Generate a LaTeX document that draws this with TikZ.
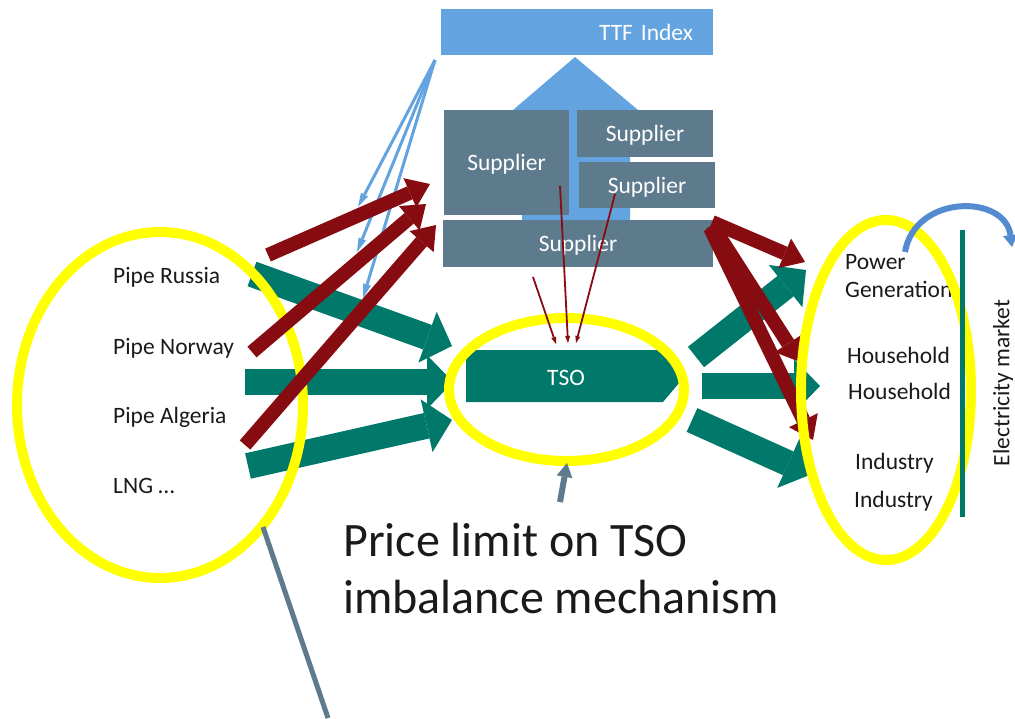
\documentclass[tikz,border=0pt]{standalone}
\usepackage{fontspec}
\setmainfont{Carlito}
\usetikzlibrary{arrows.meta, shapes.geometric, positioning}

\definecolor{ttfblue}{RGB}{98,163,224}
\definecolor{supgrey}{RGB}{94,123,142}
\definecolor{gasgreen}{RGB}{0,120,106}
\definecolor{bidred}{RGB}{135,12,18}
\definecolor{ringyellow}{RGB}{255,255,0}
\definecolor{slate}{RGB}{94,122,140}
\definecolor{arcblue}{RGB}{84,139,208}
\definecolor{txtdark}{RGB}{26,26,26}

\begin{document}
\begin{tikzpicture}[
        x=1pt, y=-1pt,
        font=\fontsize{23.5}{28}\selectfont,
        box/.style={rectangle, fill=supgrey, text=white, inner sep=0pt, text depth=0pt},
        lbl/.style={anchor=base west, inner sep=0pt, text=txtdark},
        ring/.style={ellipse, draw=ringyellow, line width=10pt, inner sep=0pt},
        flow/.style={draw=gasgreen, line width=26pt, -{Triangle[length=26pt,width=54pt,line width=0pt]}},
        bid/.style={draw=bidred, line width=14pt, -{Triangle[length=22pt,width=32pt,line width=0pt]}},
        hint/.style={draw=bidred, line width=1.8pt, -{Triangle[length=7pt,width=5pt,line width=0pt]}},
        idx/.style={draw=ttfblue, line width=3pt, -{Triangle[length=14pt,width=8pt,line width=0pt]}}
    ]
    \path[use as bounding box] (0,0) rectangle (1015,718);

    % index and suppliers
    \fill[ttfblue] (522,222) -- (522,110) -- (513,110) -- (575,57) -- (638,110) -- (630,110) -- (630,222) -- cycle;
    \node[box, fill=ttfblue, minimum height=46pt, text width=232pt, inner xsep=20pt, align=right] (ttf) at (577,32) {\mbox{TTF Index}};
    \node[box, minimum width=125pt, minimum height=105pt] (supA) at (506.5,162.5) {Supplier};
    \node[box, minimum width=136pt, minimum height=47pt] (supB) at (645,133.5) {Supplier};
    \node[box, minimum width=136pt, minimum height=46pt] (supC) at (647,185) {Supplier};
    \node[box, minimum width=270pt, minimum height=47pt] (supD) at (578,243.5) {Supplier};

    % sources
    \node[lbl] (russia) at (113,283) {Pipe Russia};
    \node[lbl] (norway) at (113,354) {Pipe Norway};
    \node[lbl] (algeria) at (113,423) {Pipe Algeria};
    \node[lbl] (lng) at (113,493) {LNG …};

    % consumers
    \node[lbl] (power) at (845,269) {Power};
    \node[lbl] (powergen) at (845,297) {Generation};
    \node[lbl] (house1) at (847,363) {Household};
    \node[lbl] (house2) at (848,399) {Household};
    \node[lbl] (ind1) at (855,469) {Industry};
    \node[lbl] (ind2) at (854,507) {Industry};
    \node[rotate=90, inner sep=0pt, text=txtdark] (elmarket) at (1003,383) {Electricity market};

    % caption
    \node[lbl, font=\fontsize{48}{57}\selectfont] (price1) at (343,556) {Price limit on TSO};
    \node[lbl, font=\fontsize{48}{57}\selectfont] (price2) at (343,613) {imbalance mechanism};

    % arrow ends
    \coordinate (ru-s) at (252,274);  \coordinate (ru-e) at (452,346);
    \coordinate (no-s) at (245,382);  \coordinate (no-e) at (453,382);
    \coordinate (ln-s) at (248,466);  \coordinate (ln-e) at (452,420);
    \coordinate (pg-s) at (696,357);  \coordinate (pg-e) at (806,270);
    \coordinate (hh-s) at (702,386);  \coordinate (hh-e) at (820,386);
    \coordinate (in-s) at (692,420);  \coordinate (in-e) at (812,474);
    \coordinate (ra-s) at (268,255);  \coordinate (ra-e) at (430,184);
    \coordinate (rb-s) at (252,352);  \coordinate (rb-e) at (426,204);
    \coordinate (rc-s) at (245,445);  \coordinate (rc-e) at (436,225);
    \coordinate (rd-s) at (712,222);  \coordinate (rd-e) at (805,262);
    \coordinate (re-s) at (712,225);  \coordinate (re-e) at (800,362);
    \coordinate (rf-s) at (710,228);  \coordinate (rf-e) at (813,440);
    \coordinate (ha-s) at (560,186);  \coordinate (ha-e) at (568,343);
    \coordinate (hb-s) at (615,194);  \coordinate (hb-e) at (576,343);
    \coordinate (hc-s) at (533,277);  \coordinate (hc-e) at (556,344);
    \coordinate (ttf-src) at (435,60);
    \coordinate (ia-e) at (358,207);  \coordinate (ib-e) at (357,252);  \coordinate (ic-e) at (363,298);
    \coordinate (cap-s) at (560,502); \coordinate (cap-e) at (567,463);
    \coordinate (tail-s) at (263,527); \coordinate (tail-e) at (328,718);

    % gas flows
    \path[flow] (ru-s) -- (ru-e);
    \path[flow] (no-s) -- (no-e);
    \path[flow] (ln-s) -- (ln-e);
    \path[flow] (pg-s) -- (pg-e);
    \path[flow] (hh-s) -- (hh-e);
    \path[flow] (in-s) -- (in-e);

    % TSO
    \fill[gasgreen] (466,350) -- (663,350) -- (685,376) -- (663,402) -- (466,402) -- cycle;
    \node[text=white, inner sep=0pt] (tso) at (566,378) {TSO};

    \node[ring, minimum width=286pt, minimum height=346pt] (srcring) at (160,405) {};
    \node[ring, minimum width=235pt, minimum height=143pt] (tsoring) at (566.5,389.5) {};

    % price links
    \path[idx] (ttf-src) -- (ia-e);
    \path[idx] (ttf-src) -- (ib-e);
    \path[idx] (ttf-src) -- (ic-e);

    % contracts
    \path[bid] (ra-s) -- (ra-e);
    \path[bid] (rb-s) -- (rb-e);
    \path[bid] (rc-s) -- (rc-e);
    \path[bid] (rd-s) -- (rd-e);
    \path[bid] (re-s) -- (re-e);
    \path[bid] (rf-s) -- (rf-e);
    \path[hint] (ha-s) -- (ha-e);
    \path[hint] (hb-s) -- (hb-e);
    \path[hint] (hc-s) -- (hc-e);

    \node[ring, minimum width=170pt, minimum height=340pt] (usering) at (886,390) {};
    \draw[gasgreen, line width=5pt] (962,230) -- (962,517);
    \draw[arcblue, line width=6pt, -{Triangle[length=12pt,width=15pt,line width=0pt]}] (905,252) .. controls (915,194) and (1005,194) .. (1012,247);

    % imbalance cap
    \path[draw=slate, line width=6pt, -{Triangle[length=14pt,width=16pt,line width=0pt]}] (cap-s) -- (cap-e);
    \draw[slate, line width=5pt] (tail-s) -- (tail-e);

\end{tikzpicture}
\end{document}
